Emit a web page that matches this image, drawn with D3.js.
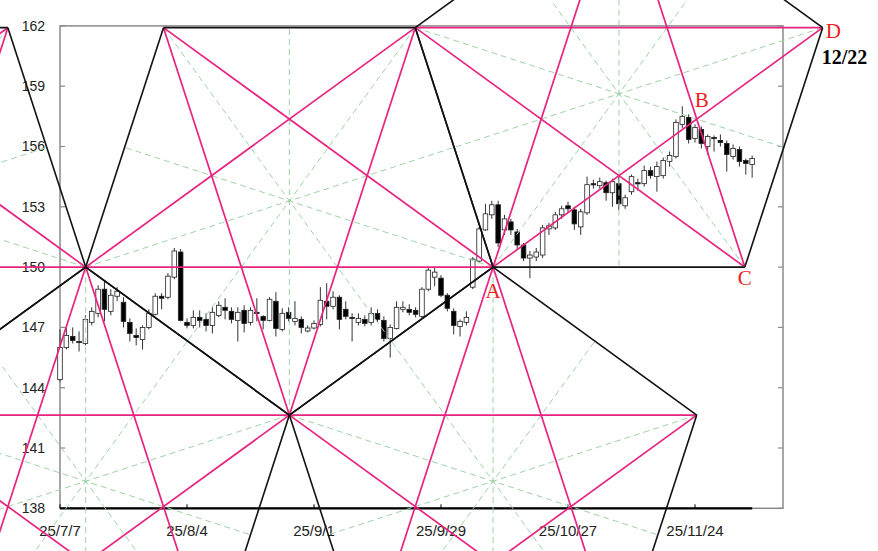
<!DOCTYPE html>
<html><head><meta charset="utf-8">
<script src="https://cdn.jsdelivr.net/npm/d3@7"></script>
<style>html,body{margin:0;padding:0;background:#fff;} svg{display:block;}</style>
</head><body><svg id="c" width="878" height="551"></svg>
<script>
// ---- data ----
const startDate = "2025-07-07";
const axisEndDate = "2025-12-22";
const opens  = [144.4,146.0,146.55,146.3,146.2,147.25,147.7,148.9,147.8,148.55,148.25,147.25,146.6,146.4,147.0,147.65,148.55,148.5,149.5,150.75,
  147.25,147.1,147.5,147.4,147.1,147.6,148.0,147.8,147.35,147.85,147.25,147.75,147.55,147.35,148.3,146.9,147.75,147.3,147.4,146.82,
  146.97,147.15,148.3,148.05,148.5,147.9,147.5,147.25,147.4,147.25,147.7,147.35,146.45,146.95,147.9,147.9,147.85,147.55,148.9,149.5,
  149.45,148.6,147.8,147.05,147.25,149.0,150.3,151.85,152.6,153.1,151.85,152.25,151.75,151.1,150.45,150.5,150.6,151.9,151.95,152.6,
  153.05,152.85,152.0,152.7,154.15,154.05,154.2,153.7,154.15,153.05,153.75,154.2,154.15,154.8,154.5,154.55,155.25,155.5,157.1,157.45,
  156.4,156.85,156.0,156.45,156.3,156.15,155.5,155.85,155.3,155.1];
const highs  = [146.9,147.0,147.0,146.8,147.6,148.0,149.1,149.3,148.9,149.0,148.5,147.45,146.95,147.1,147.9,148.7,148.7,149.7,150.95,150.9,
  147.45,147.85,147.85,147.7,148.0,148.3,148.45,148.0,148.0,148.1,148.0,148.45,147.6,148.5,148.75,147.95,148.0,148.3,147.55,147.1,
  147.35,149.0,149.2,148.8,148.6,148.3,147.7,147.7,147.6,148.0,147.9,147.55,147.15,148.3,148.3,148.15,148.0,149.0,150.0,149.95,
  149.6,148.7,147.95,147.4,147.8,150.5,152.0,153.15,153.3,153.3,152.6,152.4,151.9,151.2,150.8,150.95,152.1,152.2,152.75,153.05,
  153.25,153.0,152.9,154.5,154.35,154.45,154.3,154.4,154.5,153.6,154.6,154.4,155.05,155.0,155.25,155.45,155.75,157.35,158.0,157.6,
  157.1,157.0,156.6,156.55,156.6,156.3,156.1,156.0,155.4,155.55];
const lows   = [144.3,145.9,146.2,145.8,146.1,147.1,147.5,147.3,147.6,148.3,147.0,146.3,146.1,145.9,146.9,147.6,147.9,148.4,149.4,147.3,
  146.95,146.95,147.0,146.8,146.7,147.5,147.4,147.2,146.3,146.75,147.1,147.3,146.9,147.3,146.55,146.8,147.3,147.1,146.7,146.75,
  146.9,147.05,147.4,147.9,146.9,147.4,146.3,147.1,147.05,147.1,147.25,146.3,145.5,146.9,147.75,147.6,147.5,147.45,148.8,149.05,
  148.5,147.8,146.65,146.55,147.1,148.9,150.2,151.8,152.4,151.0,151.6,151.6,150.9,150.3,149.45,150.3,150.45,151.6,151.85,152.4,
  152.7,151.85,151.6,152.6,153.9,153.9,153.3,153.0,152.85,152.9,153.6,153.8,154.0,154.4,153.75,154.4,155.0,155.4,156.9,156.15,
  156.2,155.9,155.6,155.75,156.0,154.75,155.35,155.0,154.6,154.45];
const closes = [146.0,146.6,146.35,146.25,147.4,147.8,148.9,147.9,148.6,148.8,147.3,146.7,146.5,147.0,147.7,148.55,148.45,149.55,150.8,147.35,
  147.1,147.5,147.35,147.1,147.75,148.1,147.85,147.4,147.75,147.2,147.85,147.7,147.35,148.4,146.95,147.7,147.45,147.45,147.0,146.97,
  147.2,148.35,148.05,148.5,147.4,147.55,147.45,147.45,147.2,147.7,147.4,146.45,147.0,148.0,148.0,147.75,147.65,148.9,149.85,149.75,
  148.6,147.95,147.1,147.3,147.5,150.4,151.9,152.65,153.1,151.2,152.4,151.85,151.1,150.45,150.6,150.75,151.95,152.05,152.6,152.9,
  152.9,152.15,152.75,154.1,154.1,154.25,153.7,154.25,153.15,153.45,154.5,154.15,154.8,154.55,155.0,155.3,155.55,157.2,157.5,156.35,
  156.95,156.15,156.5,156.4,156.2,155.6,155.9,155.25,155.15,155.4];
const yTicks = [138,141,144,147,150,153,156,159,162];
const xTickDates = ["2025-07-07","2025-08-04","2025-09-01","2025-09-29","2025-10-27","2025-11-24"];
// anchors of the pentagon lattice, in trading-day position (may fall between sessions) and price
const anchorA = {pos:68.2, price:150};
const anchorC = {pos:107.85, price:150};
const pointLabels = ["A","B","C","D"];

// ---- layout ----
const svg = d3.select("#c");
const plot = {left:60, right:783, top:25.9, bottom:508.3};
const parse = d3.timeParse("%Y-%m-%d");
const fmtKey = d3.timeFormat("%Y-%m-%d");
const allDays = d3.timeDay.range(parse(startDate), d3.timeDay.offset(parse(axisEndDate),1))
  .filter(d => d.getDay()!==0 && d.getDay()!==6).map(fmtKey);
const dataDays = allDays.slice(0, opens.length);
const posOf = d => allDays.indexOf(d);

const x = d3.scaleLinear().domain([0, allDays.length-1]).range([60, 822]);
const y = d3.scaleLinear().domain([138,162]).range([plot.bottom, plot.top]);

svg.append("rect").attr("width",878).attr("height",551).attr("fill","#fff");

// frame
svg.append("rect").attr("x",plot.left).attr("y",plot.top).attr("width",plot.right-plot.left)
  .attr("height",plot.bottom-plot.top).attr("fill","none").attr("stroke","#8a8a8a").attr("stroke-width",1.5);

// y ticks & labels
const gy = svg.append("g");
yTicks.forEach(v=>{
  gy.append("line").attr("x1",plot.left).attr("x2",plot.left+5).attr("y1",y(v)).attr("y2",y(v)).attr("stroke","#8a8a8a").attr("stroke-width",1.2);
  gy.append("line").attr("x1",plot.right-5).attr("x2",plot.right).attr("y1",y(v)).attr("y2",y(v)).attr("stroke","#8a8a8a").attr("stroke-width",1.2);
  gy.append("text").attr("x",45).attr("y",y(v)).attr("dy","0.35em").attr("text-anchor","end")
    .attr("font-family","Liberation Sans, Arial, sans-serif").attr("font-size",14).attr("fill","#222").text(v);
});

// candles
const gc = svg.append("g");
dataDays.forEach((d,i)=>{
  const cx = x(i), o=opens[i], c=closes[i], h=highs[i], l=lows[i];
  gc.append("line").attr("x1",cx).attr("x2",cx).attr("y1",y(h)).attr("y2",y(l)).attr("stroke","#333").attr("stroke-width",1);
  const top = y(Math.max(o,c)), bot = y(Math.min(o,c));
  gc.append("rect").attr("x",cx-2.3).attr("y",top).attr("width",4.6).attr("height",Math.max(1.2,bot-top))
    .attr("fill", c>=o ? "#fff" : "#000").attr("stroke", "#222").attr("stroke-width",0.8);
});

// x axis
const gx = svg.append("g");
gx.append("line").attr("x1",x(0)).attr("x2",x(dataDays.length-1))
  .attr("y1",plot.bottom).attr("y2",plot.bottom).attr("stroke","#000").attr("stroke-width",2.2);
const fmtTick = d => { const t=parse(d); return (t.getFullYear()%100)+"/"+(t.getMonth()+1)+"/"+t.getDate(); };
xTickDates.forEach(d=>{
  const px = x(posOf(d));
  gx.append("line").attr("x1",px).attr("x2",px).attr("y1",plot.bottom-4).attr("y2",plot.bottom).attr("stroke","#000").attr("stroke-width",1);
  gx.append("text").attr("x",px).attr("y",536).attr("text-anchor","middle")
    .attr("font-family","Liberation Sans, Arial, sans-serif").attr("font-size",15).attr("fill","#222").text(fmtTick(d));
});

// ---- pentagon lattice ----
const deg = Math.PI/180;
const Ap = [x(anchorA.pos), y(anchorA.price)], Cp = [x(anchorC.pos), y(anchorC.price)];
const s = Cp[0]-Ap[0];
const R = s/(2*Math.sin(36*deg)), r = s/(2*Math.tan(36*deg));
function pent(c, up){
  const st = up ? -90 : 90;
  return d3.range(5).map(k=>[c[0]+R*Math.cos((st+72*k)*deg), c[1]+R*Math.sin((st+72*k)*deg)]);
}
const mid = (p,q)=>[(p[0]+q[0])/2,(p[1]+q[1])/2];
const refl = (c,p,q)=>{ const m=mid(p,q); return [2*m[0]-c[0], 2*m[1]-c[1]]; };
const c4 = [(Ap[0]+Cp[0])/2, Ap[1]-r];
const P4 = pent(c4,true);                 // apex, D, C, A, T2
const c1 = refl(c4,P4[3],P4[4]); const P1 = pent(c1,false);
const c3 = refl(c1,P1[4],P1[0]); const P3 = pent(c3,true);
const c2 = refl(c1,P1[0],P1[1]); const P2 = pent(c2,true);
const c0 = refl(c2,P2[0],P2[4]); const P0 = pent(c0,false);
const pents = [P0,P1,P2,P3,P4];

const gl = svg.append("g");
const seg = (p,q,col,w,dash)=>{ const l=gl.append("line").attr("x1",p[0]).attr("y1",p[1]).attr("x2",q[0]).attr("y2",q[1])
  .attr("stroke",col).attr("stroke-width",w); if(dash) l.attr("stroke-dasharray",dash); };
pents.forEach(P=>{ for(let k=0;k<5;k++) seg(P[k], mid(P[(k+2)%5],P[(k+3)%5]), "#9fd3a6", 1, "6,4"); });
pents.forEach(P=>{ for(let k=0;k<5;k++) seg(P[k], P[(k+2)%5], "#e8237f", 1.7); });
pents.forEach(P=>{ for(let k=0;k<5;k++) seg(P[k], P[(k+1)%5], "#111", 1.6); });

function inter(p1,p2,p3,p4){
  const d=(p1[0]-p2[0])*(p3[1]-p4[1])-(p1[1]-p2[1])*(p3[0]-p4[0]);
  const t=((p1[0]-p3[0])*(p3[1]-p4[1])-(p1[1]-p3[1])*(p3[0]-p4[0]))/d;
  return [p1[0]+t*(p2[0]-p1[0]), p1[1]+t*(p2[1]-p1[1])];
}
const Bp = inter(P4[1],P4[3],P4[0],P4[2]);
const Dp = P4[1];
const lab = (t,px,py,anchor,col,size)=>svg.append("text").attr("x",px).attr("y",py).attr("text-anchor",anchor)
  .attr("font-family","Liberation Serif, Times New Roman, serif").attr("font-size",size).attr("fill",col).text(t);
lab(pointLabels[0], Ap[0], Ap[1]+31, "middle", "#ee1c1c", 21);
lab(pointLabels[1], Bp[0]+5, Bp[1]-12, "middle", "#ee1c1c", 21);
lab(pointLabels[2], Cp[0], Cp[1]+18, "middle", "#ee1c1c", 21);
lab(pointLabels[3], Dp[0]+3, Dp[1]+10, "start", "#ee1c1c", 21);
const endT = parse(axisEndDate);
lab((endT.getMonth()+1)+"/"+endT.getDate(), Dp[0]-1, Dp[1]+36, "start", "#000", 20).attr("font-weight","bold");
</script></body></html>
